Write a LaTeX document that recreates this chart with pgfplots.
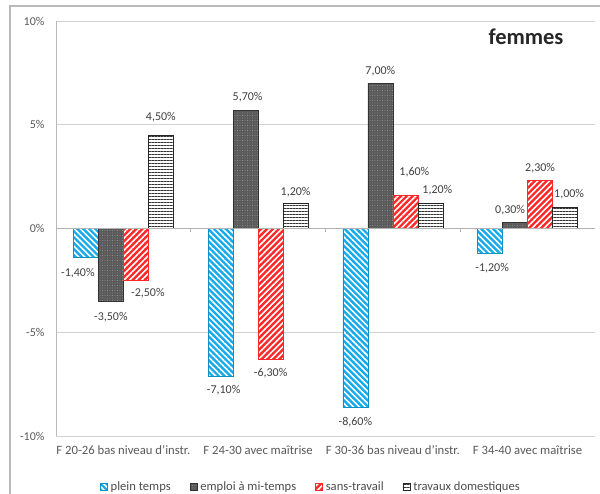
\documentclass[border=0pt]{standalone}
\usepackage{fontspec}
\setmainfont{Carlito}
\usepackage{pgfplots}
\usepackage{pgfplotstable}
\pgfplotsset{compat=1.18}
\usetikzlibrary{patterns.meta}

\definecolor{pblue}{RGB}{20,170,235}
\definecolor{pred}{RGB}{255,40,40}
\definecolor{pgray}{RGB}{90,90,90}

\pgfplotstableread{
x y dx dy
0 -1.4 -8 -16
1 -7.1 3 -14
2 -8.6 0 -15
3 -1.2 2 -15
}\tblblue
\pgfplotstableread{
x y dx dy
0 -3.5 0 -16
1 5.7 2 13
2 7.0 0 12
3 0.3 -5 12
}\tblgray
\pgfplotstableread{
x y dx dy
0 -2.5 12 -13
1 -6.3 0 -14
2 1.6 9 23
3 2.3 0 13
}\tblred
\pgfplotstableread{
x y dx dy
0 4.5 0 18
1 1.2 0 11
2 1.2 7 13
3 1.0 4 14
}\tbltrav

\begin{document}
\begin{tikzpicture}
\begin{axis}[
  at={(0pt,0pt)}, anchor=south west,
  width=539pt, height=415pt, scale only axis,
  xmin=-0.5, xmax=3.5, ymin=-10, ymax=10,
  ybar=0pt, bar width=25pt,
  xtick={0,1,2,3},
  xticklabels={F 20-26 bas niveau d'instr., F 24-30 avec maîtrise, F 30-36 bas niveau d'instr., F 34-40 avec maîtrise},
  ytick={-10,-5,0,5,10},
  yticklabels={-10\%,-5\%,0\%,5\%,10\%},
  major tick length=0pt,
  ymajorgrids, grid style={gray!35, line width=0.8pt},
  axis line style={draw=none},
  tick label style={font=\fontsize{12}{14}\selectfont, text=black!65},
  xticklabel style={yshift=-6pt, font=\fontsize{12.7}{14}\selectfont},
  yticklabel style={xshift=-8pt},
  /pgf/number format/assume math mode=true,
  nodes near coords={\pgfmathprintnumber[fixed,fixed zerofill,precision=2,use comma]{\pgfplotspointmeta}\%},
  visualization depends on={\thisrow{dx} \as \dx},
  visualization depends on={\thisrow{dy} \as \dy},
  legend columns=4,
  legend style={at={(axis description cs:0.473,-0.123)}, anchor=center, draw=none, fill=none,
    font=\fontsize{12.6}{14}\selectfont, text=black!70,
    column sep=1pt, /tikz/every even column/.append style={column sep=17pt}},
  legend image code/.code={\draw[#1] (0pt,-3.5pt) rectangle (7pt,3.5pt);},
]
\addplot[fill=pblue, draw=pblue!85!black, line width=0.6pt,
  postaction={pattern={Lines[angle=-45,distance=4.2pt,line width=1.6pt]}, pattern color=white},
  every node near coord/.append style={anchor=center, xshift=\dx pt, yshift=\dy pt, inner sep=0pt, font=\fontsize{12}{14}\selectfont, text=black!75}]
  table[x=x,y=y]{\tblblue};
\addlegendentry{plein temps}
\addplot[fill=pgray, draw=black!80, line width=0.6pt,
  postaction={pattern={Dots[distance=2.5pt,radius=0.45pt]}, pattern color=gray!65},
  every node near coord/.append style={anchor=center, xshift=\dx pt, yshift=\dy pt, inner sep=0pt, font=\fontsize{12}{14}\selectfont, text=black!75}]
  table[x=x,y=y]{\tblgray};
\addlegendentry{emploi à mi-temps}
\addplot[fill=pred, draw=pred, line width=0.6pt,
  postaction={pattern={Lines[angle=45,distance=4.2pt,line width=1.6pt]}, pattern color=white},
  every node near coord/.append style={anchor=center, xshift=\dx pt, yshift=\dy pt, inner sep=0pt, font=\fontsize{12}{14}\selectfont, text=black!75}]
  table[x=x,y=y]{\tblred};
\addlegendentry{sans-travail}
\addplot[fill=white, draw=black!85, line width=0.6pt,
  postaction={pattern={Lines[angle=0,distance=3pt,line width=0.7pt]}, pattern color=black!80},
  every node near coord/.append style={anchor=center, xshift=\dx pt, yshift=\dy pt, inner sep=0pt, font=\fontsize{12}{14}\selectfont, text=black!75}]
  table[x=x,y=y]{\tbltrav};
\addlegendentry{travaux domestiques}
\draw[gray!55, line width=0.8pt] (rel axis cs:0,0) -- (rel axis cs:0,1);
\draw[gray!60, line width=0.8pt] (axis cs:-0.5,0) -- (axis cs:3.5,0);
\draw[gray!60, line width=0.8pt] (axis cs:0.5,0) -- ++(0pt,-4pt);
\draw[gray!60, line width=0.8pt] (axis cs:1.5,0) -- ++(0pt,-4pt);
\draw[gray!60, line width=0.8pt] (axis cs:2.5,0) -- ++(0pt,-4pt);
\draw[gray!60, line width=0.8pt] (axis cs:3.5,0) -- ++(0pt,-4pt);
\end{axis}
\node[anchor=base, font=\bfseries\fontsize{22.5}{26}\selectfont, text=black!85] at (470pt,391pt) {femmes};
\draw[gray!55, line width=1.2pt] (-46pt,-70pt) -- (-46pt,430pt) -- (560pt,430pt);
\pgfresetboundingbox
\path[use as bounding box] (-56pt,-57pt) rectangle (544pt,436pt);
\end{tikzpicture}
\end{document}
